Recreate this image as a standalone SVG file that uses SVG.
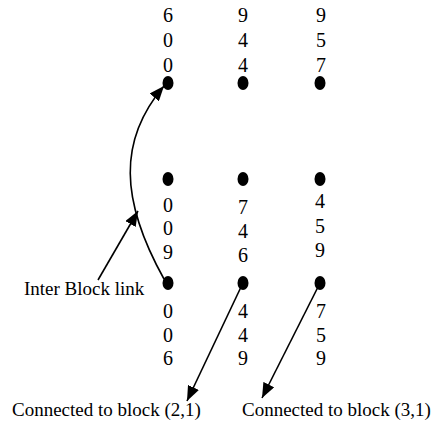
<svg xmlns="http://www.w3.org/2000/svg" width="436" height="425" viewBox="0 0 436 425">
<style>
text{font-family:"Liberation Serif","Times New Roman",serif;fill:#000}
.d{font-size:20px;text-anchor:middle}
.l{font-size:19px}
.dot{fill:#000}
.c{fill:none;stroke:#000;stroke-width:1.6}
</style>
<defs>
<marker id="ah" markerWidth="16" markerHeight="12" refX="15" refY="6" orient="auto" markerUnits="userSpaceOnUse">
<path d="M0,0 L15,6 L0,12 Z" fill="#000"/>
</marker>
</defs>
<rect width="436" height="425" fill="#fff"/>
<g id="block-top">
<text class="d" x="168" y="22">6</text><text class="d" x="168" y="47">0</text><text class="d" x="168" y="72">0</text>
<text class="d" x="243" y="22">9</text><text class="d" x="243" y="47">4</text><text class="d" x="243" y="72">4</text>
<text class="d" x="321" y="22">9</text><text class="d" x="321" y="47">5</text><text class="d" x="321" y="72">7</text>
<ellipse class="dot" cx="168" cy="83" rx="5.5" ry="7"/>
<ellipse class="dot" cx="243" cy="83" rx="5.5" ry="7"/>
<ellipse class="dot" cx="320" cy="83" rx="5.5" ry="7"/>
</g>
<g id="block-middle">
<ellipse class="dot" cx="168" cy="179" rx="5.5" ry="7"/>
<ellipse class="dot" cx="243" cy="179" rx="5.5" ry="7"/>
<ellipse class="dot" cx="320" cy="179" rx="5.5" ry="7"/>
<text class="d" x="168" y="212">0</text><text class="d" x="168" y="235">0</text><text class="d" x="168" y="259">9</text>
<text class="d" x="243" y="214">7</text><text class="d" x="243" y="238">4</text><text class="d" x="243" y="262">6</text>
<text class="d" x="320" y="208">4</text><text class="d" x="320" y="233">5</text><text class="d" x="320" y="257">9</text>
</g>
<g id="block-bottom">
<ellipse class="dot" cx="168" cy="283" rx="5.5" ry="7"/>
<ellipse class="dot" cx="243" cy="283" rx="5.5" ry="7"/>
<ellipse class="dot" cx="320" cy="283" rx="5.5" ry="7"/>
<text class="d" x="168" y="318">0</text><text class="d" x="168" y="342">0</text><text class="d" x="168" y="365">6</text>
<text class="d" x="243" y="318">4</text><text class="d" x="243" y="342">4</text><text class="d" x="243" y="365">9</text>
<text class="d" x="321" y="318">7</text><text class="d" x="321" y="342">5</text><text class="d" x="321" y="365">9</text>
</g>
<g id="labels">
<text class="l" x="24" y="295">Inter Block link</text>
<text class="l" x="12" y="416">Connected to block (2,1)</text>
<text class="l" x="242" y="416">Connected to block (3,1)</text>
</g>
<g id="connectors">
<path class="c" d="M164,279 C120,200 118,140 164,86" marker-end="url(#ah)"/>
<path class="c" d="M98,280 L138,211" marker-end="url(#ah)"/>
<path class="c" d="M241,287 L187,401" marker-end="url(#ah)"/>
<path class="c" d="M318,287 L262,398" marker-end="url(#ah)"/>
</g>
</svg>
